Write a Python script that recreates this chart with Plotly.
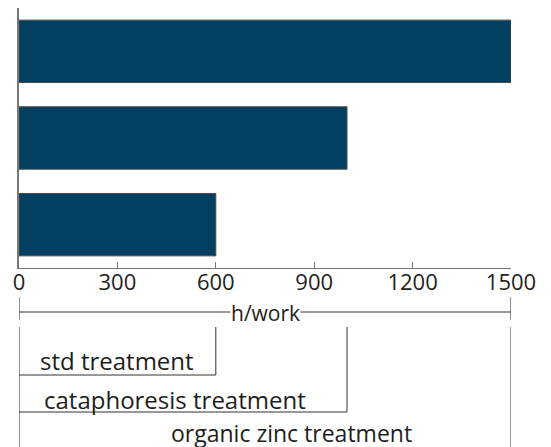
import plotly.graph_objects as go

categories = ["std treatment", "cataphoresis treatment", "organic zinc treatment"]
values = [600, 1000, 1500]
tick_vals = [0, 300, 600, 900, 1200, 1500]
tick_text = ["0", "300", "600", "900", "1200", "1500"]
unit_label = "h/work"

FONT = "Open Sans"
TXT = "#1e1e1e"
LINE = "#333333"

fig = go.Figure()
fig.add_trace(go.Bar(
    x=values, y=categories, orientation="h",
    marker=dict(color="#023f60", line=dict(color="#4a4a4a", width=1)),
    width=0.72,
))

# plot area in page pixels: top 8, bottom 268 (height 260)
def py(p):
    return (268 - p) / 260.0

shapes = []
def vline(x, p0, p1):
    shapes.append(dict(type="line", xref="x", yref="paper", x0=x, x1=x,
                       y0=py(p0), y1=py(p1), line=dict(color=LINE, width=1)))
def hline(x0, x1, p):
    shapes.append(dict(type="line", xref="x", yref="paper", x0=x0, x1=x1,
                       y0=py(p), y1=py(p), line=dict(color=LINE, width=1)))

xmin, xmax = 0, max(values)
# unit bracket
vline(xmin, 297, 320)
vline(xmax, 297, 320)
hline(xmin, xmax, 312)
# category brackets
vline(xmin, 327, 447)
vline(xmax, 327, 447)
vline(values[0], 327, 375)
vline(values[1], 327, 412)
hline(xmin, values[0], 375)
hline(xmin, values[1], 412)

def ann(text, x, p, size, xshift=0):
    return dict(text=text, x=x, y=py(p), xref="x", yref="paper",
                xanchor="center", yanchor="middle", showarrow=False,
                xshift=xshift,
                font=dict(family=FONT, size=size, color=TXT))

unit_ann = ann(unit_label, (xmin + xmax) / 2, 313, 21)
unit_ann.update(bgcolor="white", borderpad=0)
annotations = [
    unit_ann,
    ann(categories[0], values[0] / 2, 360, 24),
    ann(categories[1], values[1] / 2, 399, 24, xshift=-8),
    ann(categories[2], values[2] / 2, 433, 23, xshift=26),
]

fig.update_layout(
    width=543, height=439,
    margin=dict(l=11, r=40, t=0, b=179),
    paper_bgcolor="white", plot_bgcolor="white",
    showlegend=False,
    shapes=shapes, annotations=annotations,
    xaxis=dict(range=[0, 1500], tickvals=tick_vals, ticktext=tick_text,
               ticks="inside", ticklen=6, tickcolor="#777777",
               showline=True, linecolor="#777777", linewidth=1,
               showgrid=False, zeroline=False, automargin=False,
               ticklabelstandoff=-5,
               tickfont=dict(family=FONT, size=22, color=TXT)),
    yaxis=dict(showticklabels=False, showgrid=False, zeroline=False,
               showline=True, linecolor="#777777", linewidth=2,
               automargin=False, range=[-0.5, 2.5]),
)

fig.write_html("out.html")
